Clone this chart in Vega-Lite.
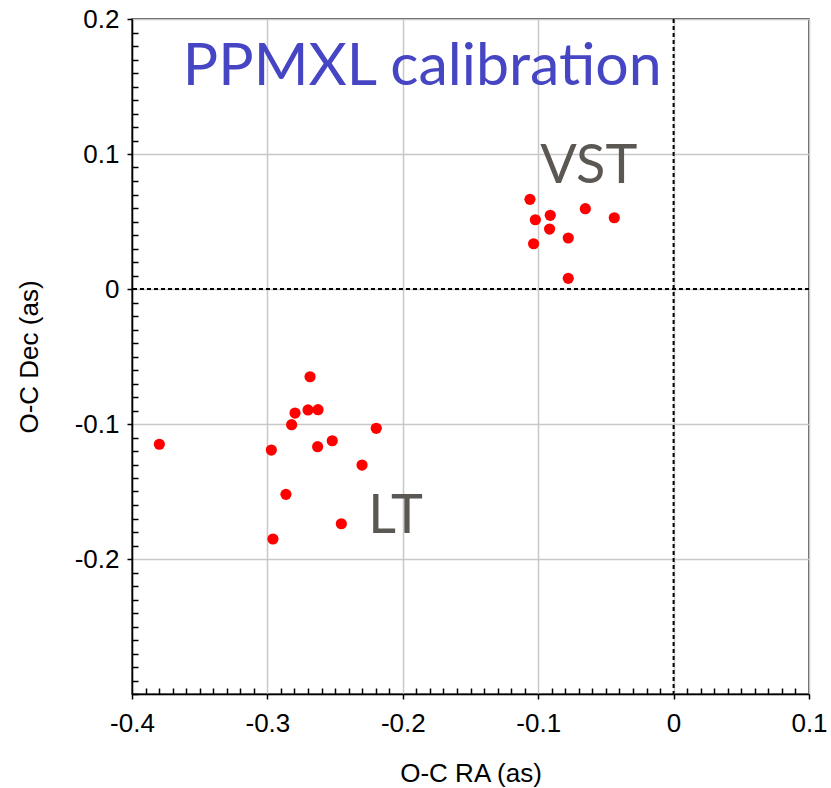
{
  "$schema": "https://vega.github.io/schema/vega-lite/v6.json",
  "width": 677,
  "height": 675,
  "autosize": {"type": "none"},
  "padding": {"left": 132, "top": 19, "right": 22, "bottom": 94},
  "background": "white",
  "config": {"view": {"stroke": "#222", "strokeWidth": 1.5}, "font": "Liberation Sans"},
  "datasets": {
    "pts": [
      {"group": "LT", "ra": -0.3798, "dec": -0.1150},
      {"group": "LT", "ra": -0.2971, "dec": -0.1193},
      {"group": "LT", "ra": -0.2685, "dec": -0.0650},
      {"group": "LT", "ra": -0.2796, "dec": -0.0919},
      {"group": "LT", "ra": -0.2700, "dec": -0.0896},
      {"group": "LT", "ra": -0.2626, "dec": -0.0894},
      {"group": "LT", "ra": -0.2821, "dec": -0.1005},
      {"group": "LT", "ra": -0.2629, "dec": -0.1168},
      {"group": "LT", "ra": -0.2521, "dec": -0.1124},
      {"group": "LT", "ra": -0.2196, "dec": -0.1032},
      {"group": "LT", "ra": -0.2301, "dec": -0.1304},
      {"group": "LT", "ra": -0.2863, "dec": -0.1521},
      {"group": "LT", "ra": -0.2454, "dec": -0.1739},
      {"group": "LT", "ra": -0.2959, "dec": -0.1852},
      {"group": "VST", "ra": -0.1061, "dec": 0.0664},
      {"group": "VST", "ra": -0.1021, "dec": 0.0513},
      {"group": "VST", "ra": -0.0911, "dec": 0.0546},
      {"group": "VST", "ra": -0.0916, "dec": 0.0444},
      {"group": "VST", "ra": -0.1034, "dec": 0.0335},
      {"group": "VST", "ra": -0.0778, "dec": 0.0378},
      {"group": "VST", "ra": -0.0652, "dec": 0.0595},
      {"group": "VST", "ra": -0.0438, "dec": 0.0528},
      {"group": "VST", "ra": -0.0778, "dec": 0.0079}
    ]
  },
  "layer": [
    {
      "data": {"name": "pts"},
      "mark": {"type": "circle", "size": 125, "color": "#ff0000", "opacity": 1},
      "encoding": {
        "x": {
          "field": "ra", "type": "quantitative",
          "scale": {"domain": [-0.4, 0.1], "nice": false, "zero": false},
          "axis": {
            "orient": "bottom", "title": "O-C RA (as)", "tickCount": 200,
            "values": [-0.4,-0.39,-0.38,-0.37,-0.36,-0.35,-0.34,-0.33,-0.32,-0.31,-0.3,-0.29,-0.28,-0.27,-0.26,-0.25,-0.24,-0.23,-0.22,-0.21,-0.2,-0.19,-0.18,-0.17,-0.16,-0.15,-0.14,-0.13,-0.12,-0.11,-0.1,-0.09,-0.08,-0.07,-0.06,-0.05,-0.04,-0.03,-0.02,-0.01,0,0.01,0.02,0.03,0.04,0.05,0.06,0.07,0.08,0.09,0.1],
            "labelExpr": "abs(datum.value*10 - round(datum.value*10)) < 0.001 ? toString(round(datum.value*10)/10) : ''",
            "grid": true, "gridColor": "#c8c8c8", "gridWidth": 1.5,
            "gridOpacity": {"condition": {"test": "abs(datum.value*10 - round(datum.value*10)) < 0.001", "value": 1}, "value": 0},
            "tickSize": {"condition": {"test": "abs(datum.value*10 - round(datum.value*10)) < 0.001", "value": 5}, "value": -6},
            "tickColor": "#000", "tickWidth": 1.5,
            "domainColor": "#000", "domainWidth": 1.5,
            "labelFontSize": 26, "labelColor": "#000", "labelPadding": 11, "labelFlush": false, "labelOverlap": false,
            "titleFontSize": 26, "titleFontWeight": "normal", "titleColor": "#000", "titlePadding": 24
          }
        },
        "y": {
          "field": "dec", "type": "quantitative",
          "scale": {"domain": [-0.3, 0.2], "nice": false, "zero": false},
          "axis": {
            "orient": "left", "title": "O-C Dec (as)", "tickCount": 200,
            "values": [-0.3,-0.29,-0.28,-0.27,-0.26,-0.25,-0.24,-0.23,-0.22,-0.21,-0.2,-0.19,-0.18,-0.17,-0.16,-0.15,-0.14,-0.13,-0.12,-0.11,-0.1,-0.09,-0.08,-0.07,-0.06,-0.05,-0.04,-0.03,-0.02,-0.01,0,0.01,0.02,0.03,0.04,0.05,0.06,0.07,0.08,0.09,0.1,0.11,0.12,0.13,0.14,0.15,0.16,0.17,0.18,0.19,0.2],
            "labelExpr": "abs(datum.value*10 - round(datum.value*10)) < 0.001 && datum.value > -0.25 ? toString(round(datum.value*10)/10) : ''",
            "grid": true, "gridColor": "#c8c8c8", "gridWidth": 1.5,
            "gridOpacity": {"condition": {"test": "abs(datum.value*10 - round(datum.value*10)) < 0.001", "value": 1}, "value": 0},
            "tickSize": {"condition": {"test": "abs(datum.value*10 - round(datum.value*10)) < 0.001 && datum.value > -0.25", "value": 5}, "value": -6},
            "tickColor": "#000", "tickWidth": 1.5,
            "domainColor": "#000", "domainWidth": 1.5,
            "labelFontSize": 26, "labelColor": "#000", "labelPadding": 8, "labelFlush": false, "labelOverlap": false,
            "titleFontSize": 26, "titleFontWeight": "normal", "titleColor": "#000", "titlePadding": 32
          }
        }
      }
    },
    {
      "data": {"values": [{}]},
      "mark": {"type": "rule", "strokeDash": [4, 3], "color": "#000", "strokeWidth": 2},
      "encoding": {
        "x": {"datum": 0, "type": "quantitative"}
      }
    },
    {
      "data": {"values": [{}]},
      "mark": {"type": "rule", "strokeDash": [4, 3], "color": "#000", "strokeWidth": 2},
      "encoding": {
        "y": {"datum": 0, "type": "quantitative"}
      }
    },
    {
      "data": {"values": [{}]},
      "mark": {"type": "text", "font": "Lato", "fontSize": 59, "color": "#4646c4", "align": "left", "baseline": "alphabetic"},
      "encoding": {
        "text": {"value": "PPMXL calibration"},
        "x": {"datum": -0.3625, "type": "quantitative"},
        "y": {"datum": 0.1511, "type": "quantitative"}
      }
    },
    {
      "data": {"values": [{}]},
      "mark": {"type": "text", "font": "Lato", "fontSize": 54, "color": "#5b5753", "align": "left", "baseline": "alphabetic"},
      "encoding": {
        "text": {"value": "VST"},
        "x": {"datum": -0.0984, "type": "quantitative"},
        "y": {"datum": 0.0783, "type": "quantitative"}
      }
    },
    {
      "data": {"values": [{}]},
      "mark": {"type": "text", "font": "Lato", "fontSize": 54, "color": "#5b5753", "align": "left", "baseline": "alphabetic"},
      "encoding": {
        "text": {"value": "LT"},
        "x": {"datum": -0.2255, "type": "quantitative"},
        "y": {"datum": -0.1805, "type": "quantitative"}
      }
    }
  ]
}
